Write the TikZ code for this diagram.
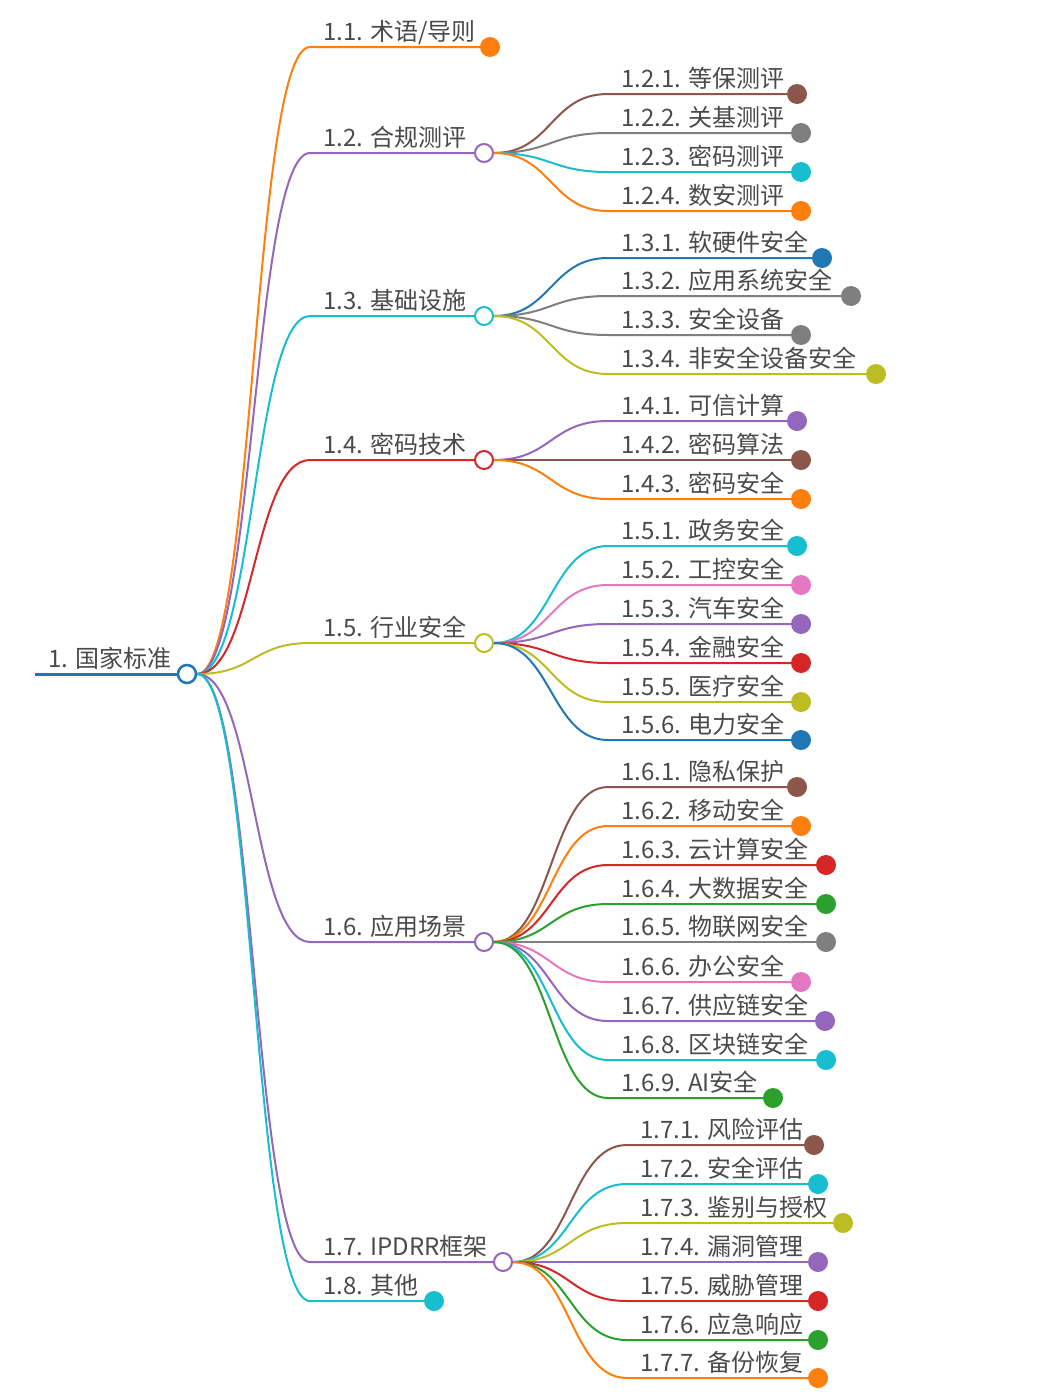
\documentclass[tikz,border=0pt]{standalone}
\usepackage{fontspec}
\setmainfont{Noto Sans CJK SC}
\usetikzlibrary{calc}
\definecolor{cblue}{HTML}{1F77B4}
\definecolor{corange}{HTML}{FF7F0E}
\definecolor{cgreen}{HTML}{2CA02C}
\definecolor{cred}{HTML}{D62728}
\definecolor{cpurple}{HTML}{9467BD}
\definecolor{cbrown}{HTML}{8C564B}
\definecolor{cpink}{HTML}{E377C2}
\definecolor{cgray}{HTML}{7F7F7F}
\definecolor{colive}{HTML}{BCBD22}
\definecolor{ccyan}{HTML}{17BECF}
\definecolor{ctext}{HTML}{4A4A4A}
\tikzset{
  dot/.style={circle,inner sep=0pt,minimum size=20pt,draw=none},
  ring/.style={circle,inner sep=0pt,minimum size=18pt,fill=white,line width=2pt},
  lbl/.style={anchor=base west,inner sep=0pt,text=ctext,font=\fontsize{24}{24}\selectfont},
  lnk/.style={line width=2pt},
}
% #1 parent, #2 name, #3 y, #4 dot x, #5 colour, #6 text, #7 bend x, #8 text x
\newcommand\kidnode[8]{%
  \node[dot,fill=#5] (#2) at (#4,#3) {};
  \coordinate (#2k) at (#7,#3);
  \node[lbl] (#2t) at (#8,#3-7) {#6};
  \draw[lnk,draw=#5] (#1.east) .. controls ($(#1.east)+(57.5,0)$) and ($(#2k)+(-57.5,0)$) .. (#2k) -- (#2);
}
% open node: #1 parent, #2 name, #3 y, #4 circle x, #5 colour, #6 text
\newcommand\midnode[6]{%
  \node[ring,draw=#5] (#2) at (#4,#3) {};
  \coordinate (#2k) at (310,#3);
  \node[lbl] (#2t) at (323,#3-7) {#6};
  \draw[lnk,draw=#5] (#1.east) .. controls ($(#1.east)+(57,0)$) and ($(#2k)+(-57,0)$) .. (#2k) -- (#2);
}
\begin{document}
\begin{tikzpicture}[x=1pt,y=-1pt]
\useasboundingbox[fill=white] (0,0) rectangle (1044,1400);
% root
\node[ring,draw=cblue,line width=2.5pt] (root) at (187,674) {};
\coordinate (rootl) at (35,674);
\node[lbl] (roott) at (48,667) {1. 国家标准};
\draw[line width=3pt,cblue] (rootl) -- (root);
% level 1
\kidnode{root}{n11}{47}{490}{corange}{1.1. 术语/导则}{310}{323}
\midnode{root}{n12}{153}{484}{cpurple}{1.2. 合规测评}
\midnode{root}{n13}{316}{484}{ccyan}{1.3. 基础设施}
\midnode{root}{n14}{460}{484}{cred}{1.4. 密码技术}
\midnode{root}{n15}{643}{484}{colive}{1.5. 行业安全}
\midnode{root}{n16}{942}{484}{cpurple}{1.6. 应用场景}
\midnode{root}{n17}{1262}{503}{cpurple}{1.7. IPDRR框架}
\kidnode{root}{n18}{1301}{434}{ccyan}{1.8. 其他}{310}{323}
% 1.2
\kidnode{n12}{n121}{94}{797}{cbrown}{1.2.1. 等保测评}{608}{621}
\kidnode{n12}{n122}{133}{801}{cgray}{1.2.2. 关基测评}{608}{621}
\kidnode{n12}{n123}{172}{801}{ccyan}{1.2.3. 密码测评}{608}{621}
\kidnode{n12}{n124}{211}{801}{corange}{1.2.4. 数安测评}{608}{621}
% 1.3
\kidnode{n13}{n131}{258}{822}{cblue}{1.3.1. 软硬件安全}{608}{621}
\kidnode{n13}{n132}{296}{851}{cgray}{1.3.2. 应用系统安全}{608}{621}
\kidnode{n13}{n133}{335}{801}{cgray}{1.3.3. 安全设备}{608}{621}
\kidnode{n13}{n134}{374}{876}{colive}{1.3.4. 非安全设备安全}{608}{621}
% 1.4
\kidnode{n14}{n141}{421}{797}{cpurple}{1.4.1. 可信计算}{608}{621}
\kidnode{n14}{n142}{460}{801}{cbrown}{1.4.2. 密码算法}{608}{621}
\kidnode{n14}{n143}{499}{801}{corange}{1.4.3. 密码安全}{608}{621}
% 1.5
\kidnode{n15}{n151}{546}{797}{ccyan}{1.5.1. 政务安全}{608}{621}
\kidnode{n15}{n152}{585}{801}{cpink}{1.5.2. 工控安全}{608}{621}
\kidnode{n15}{n153}{624}{801}{cpurple}{1.5.3. 汽车安全}{608}{621}
\kidnode{n15}{n154}{663}{801}{cred}{1.5.4. 金融安全}{608}{621}
\kidnode{n15}{n155}{702}{801}{colive}{1.5.5. 医疗安全}{608}{621}
\kidnode{n15}{n156}{740}{801}{cblue}{1.5.6. 电力安全}{608}{621}
% 1.6
\kidnode{n16}{n161}{787}{797}{cbrown}{1.6.1. 隐私保护}{608}{621}
\kidnode{n16}{n162}{826}{801}{corange}{1.6.2. 移动安全}{608}{621}
\kidnode{n16}{n163}{865}{826}{cred}{1.6.3. 云计算安全}{608}{621}
\kidnode{n16}{n164}{904}{826}{cgreen}{1.6.4. 大数据安全}{608}{621}
\kidnode{n16}{n165}{942}{826}{cgray}{1.6.5. 物联网安全}{608}{621}
\kidnode{n16}{n166}{982}{801}{cpink}{1.6.6. 办公安全}{608}{621}
\kidnode{n16}{n167}{1021}{825}{cpurple}{1.6.7. 供应链安全}{608}{621}
\kidnode{n16}{n168}{1060}{826}{ccyan}{1.6.8. 区块链安全}{608}{621}
\kidnode{n16}{n169}{1098}{773}{cgreen}{1.6.9. AI安全}{608}{621}
% 1.7
\kidnode{n17}{n171}{1145}{814}{cbrown}{1.7.1. 风险评估}{627}{640}
\kidnode{n17}{n172}{1184}{818}{ccyan}{1.7.2. 安全评估}{627}{640}
\kidnode{n17}{n173}{1223}{843}{colive}{1.7.3. 鉴别与授权}{627}{640}
\kidnode{n17}{n174}{1262}{818}{cpurple}{1.7.4. 漏洞管理}{627}{640}
\kidnode{n17}{n175}{1301}{818}{cred}{1.7.5. 威胁管理}{627}{640}
\kidnode{n17}{n176}{1340}{818}{cgreen}{1.7.6. 应急响应}{627}{640}
\kidnode{n17}{n177}{1378}{818}{corange}{1.7.7. 备份恢复}{627}{640}
\end{tikzpicture}
\end{document}
